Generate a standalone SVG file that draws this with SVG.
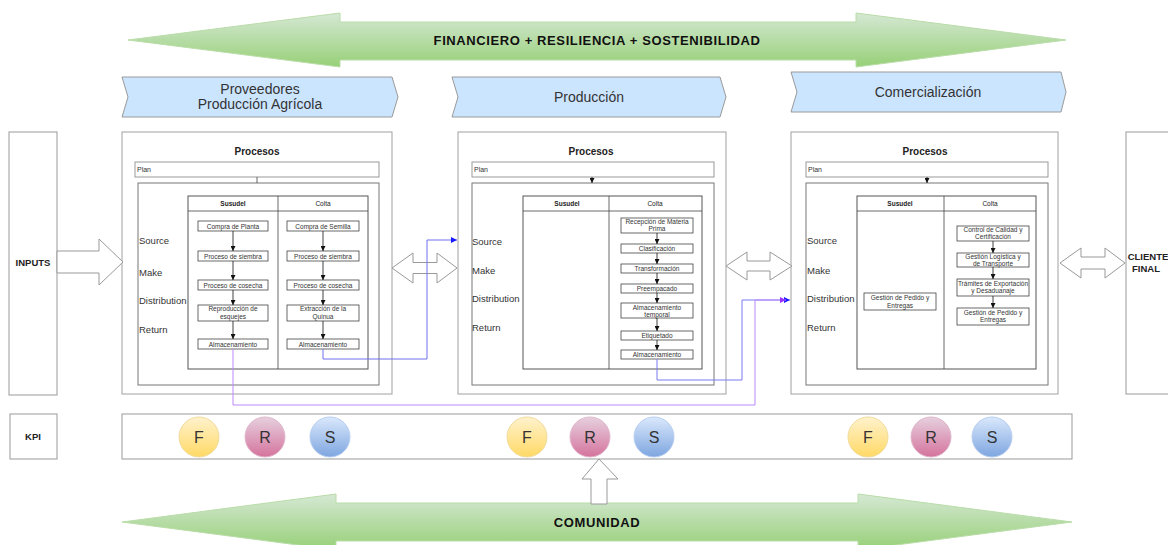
<svg xmlns="http://www.w3.org/2000/svg" width="1168" height="545" viewBox="0 0 1168 545">
<defs>
<linearGradient id="gGreen" x1="0" y1="0" x2="0" y2="1"><stop offset="0" stop-color="#d5e8d4"/><stop offset="1" stop-color="#97d077"/></linearGradient>
<linearGradient id="gF" x1="0" y1="0" x2="0" y2="1"><stop offset="0" stop-color="#fff2cc"/><stop offset="1" stop-color="#ffd966"/></linearGradient>
<linearGradient id="gR" x1="0" y1="0" x2="0" y2="1"><stop offset="0" stop-color="#e6d0de"/><stop offset="1" stop-color="#d5739d"/></linearGradient>
<linearGradient id="gS" x1="0" y1="0" x2="0" y2="1"><stop offset="0" stop-color="#dae8fc"/><stop offset="1" stop-color="#7ea6e0"/></linearGradient>
<marker id="mBlack" viewBox="0 0 10 10" refX="10" refY="5" markerWidth="5" markerHeight="5" orient="auto" markerUnits="userSpaceOnUse"><path d="M0,0 L10,5 L0,10 Z" fill="#111"/></marker>
<marker id="mBlue" viewBox="0 0 10 10" refX="10" refY="5" markerWidth="6" markerHeight="6" orient="auto" markerUnits="userSpaceOnUse"><path d="M0,0 L10,5 L0,10 Z" fill="#1a1aff"/></marker>
<marker id="mPurple" viewBox="0 0 10 10" refX="10" refY="5" markerWidth="6" markerHeight="6" orient="auto" markerUnits="userSpaceOnUse"><path d="M0,0 L10,5 L0,10 Z" fill="#9933ff"/></marker>
</defs>
<style>
text{font-family:"Liberation Sans",Arial,sans-serif;fill:#333}
.big{fill:url(#gGreen);stroke:#b9dca8;stroke-width:1}
.bigt{font-size:13px;font-weight:bold;fill:#111;text-anchor:middle;letter-spacing:0.6px}
.chev{fill:#cce5ff;stroke:#9a9a9a;stroke-width:1}
.chevt{font-size:14px;text-anchor:middle;fill:#333}
.outer{fill:#fff;stroke:#a0a0a0;stroke-width:1}
.inner{fill:none;stroke:#777;stroke-width:1}
.tbl{fill:none;stroke:#555;stroke-width:1}
.plan{fill:#fff;stroke:#999;stroke-width:1}
.pb{fill:#fff;stroke:#444;stroke-width:0.8}
.pt{font-size:6.5px;text-anchor:middle;fill:#333}
.proc{font-size:10px;font-weight:bold;text-anchor:middle;fill:#222}
.plant{font-size:7px;fill:#333}
.hdr{font-size:6.5px;text-anchor:middle;fill:#222}
.lbl{font-size:9.5px;fill:#333}
.hollow{fill:#fff;stroke:#999;stroke-width:1}
.side{fill:#fff;stroke:#999;stroke-width:1}
.sidet{font-size:9.5px;font-weight:bold;fill:#222;text-anchor:middle}
.ka{stroke:#111;stroke-width:0.8;fill:none;marker-end:url(#mBlack)}
.kl{stroke:#444;stroke-width:0.8;fill:none}
.cf{fill:url(#gF);stroke:#f0dca0;stroke-width:1}
.cr{fill:url(#gR);stroke:#e0b8cc;stroke-width:1}
.cs{fill:url(#gS);stroke:#b8cff0;stroke-width:1}
.ct{font-size:16px;text-anchor:middle;fill:#333}
</style>

<g id="banner-top">
<polygon class="big" points="128,40 340,13 340,22 856,22 856,13 1066,40 856,67 856,60 340,60 340,67"/>
<text class="bigt" x="597" y="45">FINANCIERO + RESILIENCIA + SOSTENIBILIDAD</text>
</g>

<g id="chevron-proveedores">
<polygon class="chev" points="122,77 392,77 398,97 392,117 122,117 128,97"/>
<text class="chevt" x="260" y="94">Proveedores</text>
<text class="chevt" x="260" y="109">Producción Agrícola</text>
</g>
<g id="chevron-produccion">
<polygon class="chev" points="452,77 720,77 726,97 720,117 452,117 458,97"/>
<text class="chevt" x="589" y="102">Producción</text>
</g>
<g id="chevron-comercializacion">
<polygon class="chev" points="791,72 1061,72 1066,92 1061,112 791,112 797,92"/>
<text class="chevt" x="928" y="97">Comercialización</text>
</g>

<g id="inputs">
<rect class="side" x="9" y="132" width="48" height="263"/>
<text class="sidet" x="33" y="266">INPUTS</text>
</g>
<g id="cliente-final">
<rect class="side" x="1126" y="132" width="60" height="262"/>
<text class="sidet" x="1148" y="260">CLIENTE</text>
<text class="sidet" x="1146" y="272">FINAL</text>
</g>

<g id="box-proveedores">
<rect class="outer" x="122" y="132" width="270" height="262"/>
<text class="proc" x="257" y="155">Procesos</text>
<rect class="plan" x="135" y="162" width="244" height="15"/>
<text class="plant" x="137" y="172">Plan</text>
<rect class="inner" x="138" y="183" width="241" height="202"/>
<rect class="tbl" x="188" y="196" width="180" height="173"/>
<line class="kl" x1="188" y1="211" x2="368" y2="211"/>
<line class="kl" x1="278" y1="196" x2="278" y2="369"/>
<text class="hdr" x="233" y="206" font-weight="bold">Susudel</text>
<text class="hdr" x="323" y="206">Colta</text>
<text class="lbl" x="139" y="244">Source</text>
<text class="lbl" x="139" y="276">Make</text>
<text class="lbl" x="139" y="304">Distribution</text>
<text class="lbl" x="139" y="333">Return</text>
<rect class="pb" x="198" y="221" width="70" height="10"/><text class="pt" x="233" y="228.5">Compra de Planta</text>
<rect class="pb" x="198" y="251" width="70" height="10"/><text class="pt" x="233" y="258.5">Proceso de siembra</text>
<rect class="pb" x="198" y="280" width="70" height="10"/><text class="pt" x="233" y="287.5">Proceso de cosecha</text>
<rect class="pb" x="198" y="305" width="70" height="16"/><text class="pt" x="233" y="311">Reproducción de</text><text class="pt" x="233" y="318.5">esquejes</text>
<rect class="pb" x="198" y="339" width="70" height="10"/><text class="pt" x="233" y="346.5">Almacenamiento</text>
<rect class="pb" x="287" y="221" width="72" height="10"/><text class="pt" x="323" y="228.5">Compra de Semilla</text>
<rect class="pb" x="287" y="251" width="72" height="10"/><text class="pt" x="323" y="258.5">Proceso de siembra</text>
<rect class="pb" x="287" y="280" width="72" height="10"/><text class="pt" x="323" y="287.5">Proceso de cosecha</text>
<rect class="pb" x="287" y="305" width="72" height="16"/><text class="pt" x="323" y="311">Extracción de la</text><text class="pt" x="323" y="318.5">Quinua</text>
<rect class="pb" x="287" y="339" width="72" height="10"/><text class="pt" x="323" y="346.5">Almacenamiento</text>
</g>

<g id="box-produccion">
<rect class="outer" x="458" y="132" width="268" height="262"/>
<text class="proc" x="591" y="155">Procesos</text>
<rect class="plan" x="472" y="162" width="242" height="15"/>
<text class="plant" x="474" y="172">Plan</text>
<rect class="inner" x="472" y="183" width="242" height="202"/>
<rect class="tbl" x="523" y="196" width="179" height="173"/>
<line class="kl" x1="523" y1="211" x2="702" y2="211"/>
<line class="kl" x1="609" y1="196" x2="609" y2="369"/>
<text class="hdr" x="567" y="206" font-weight="bold">Susudel</text>
<text class="hdr" x="655" y="206">Colta</text>
<text class="lbl" x="472" y="245">Source</text>
<text class="lbl" x="472" y="274">Make</text>
<text class="lbl" x="472" y="302">Distribution</text>
<text class="lbl" x="472" y="331">Return</text>
<rect class="pb" x="621" y="218" width="72" height="15"/><text class="pt" x="657" y="224">Recepción de Materia</text><text class="pt" x="657" y="231">Prima</text>
<rect class="pb" x="621" y="244" width="72" height="9"/><text class="pt" x="657" y="251">Clasificación</text>
<rect class="pb" x="621" y="264" width="72" height="9"/><text class="pt" x="657" y="271">Transformación</text>
<rect class="pb" x="621" y="284" width="72" height="9"/><text class="pt" x="657" y="291">Preempacado</text>
<rect class="pb" x="621" y="303" width="72" height="15"/><text class="pt" x="657" y="309.5">Almacenamiento</text><text class="pt" x="657" y="316.5">temporal</text>
<rect class="pb" x="621" y="331" width="72" height="9"/><text class="pt" x="657" y="338">Etiquetado</text>
<rect class="pb" x="621" y="350" width="72" height="9"/><text class="pt" x="657" y="357">Almacenamiento</text>
</g>

<g id="box-comercializacion">
<rect class="outer" x="791" y="132" width="267" height="262"/>
<text class="proc" x="925" y="155">Procesos</text>
<rect class="plan" x="806" y="162" width="242" height="15"/>
<text class="plant" x="808" y="172">Plan</text>
<rect class="inner" x="806" y="183" width="242" height="202"/>
<rect class="tbl" x="857" y="196" width="179" height="173"/>
<line class="kl" x1="857" y1="211" x2="1036" y2="211"/>
<line class="kl" x1="944" y1="196" x2="944" y2="369"/>
<text class="hdr" x="900" y="206" font-weight="bold">Susudel</text>
<text class="hdr" x="990" y="206">Colta</text>
<text class="lbl" x="807" y="244">Source</text>
<text class="lbl" x="807" y="274">Make</text>
<text class="lbl" x="807" y="302">Distribution</text>
<text class="lbl" x="807" y="331">Return</text>
<rect class="pb" x="864" y="293" width="72" height="17"/><text class="pt" x="900" y="300">Gestión de Pedido y</text><text class="pt" x="900" y="307.5">Entregas</text>
<rect class="pb" x="957" y="226" width="72" height="15"/><text class="pt" x="993" y="232">Control de Calidad y</text><text class="pt" x="993" y="239">Certificación</text>
<rect class="pb" x="957" y="253" width="72" height="14"/><text class="pt" x="993" y="259">Gestión Logística y</text><text class="pt" x="993" y="265.5">de Transporte</text>
<rect class="pb" x="957" y="279" width="72" height="17"/><text class="pt" x="993" y="286">Trámites de Exportación</text><text class="pt" x="993" y="293">y Desaduanaje</text>
<rect class="pb" x="957" y="308" width="72" height="17"/><text class="pt" x="993" y="315">Gestión de Pedido y</text><text class="pt" x="993" y="322">Entregas</text>
</g>

<g id="kpi">
<rect class="side" x="10" y="414" width="47" height="45"/>
<text class="sidet" x="33" y="440" font-size="8.5px">KPI</text>
</g>
<g id="kpi-row">
<rect class="side" x="122" y="414" width="950" height="45"/>
<circle class="cf" cx="199" cy="437" r="20"/><text class="ct" x="199" y="443">F</text>
<circle class="cr" cx="265" cy="437" r="20"/><text class="ct" x="265" y="443">R</text>
<circle class="cs" cx="330" cy="437" r="20"/><text class="ct" x="330" y="443">S</text>
<circle class="cf" cx="527" cy="437" r="20"/><text class="ct" x="527" y="443">F</text>
<circle class="cr" cx="590" cy="437" r="20"/><text class="ct" x="590" y="443">R</text>
<circle class="cs" cx="654" cy="437" r="20"/><text class="ct" x="654" y="443">S</text>
<circle class="cf" cx="868" cy="437" r="20"/><text class="ct" x="868" y="443">F</text>
<circle class="cr" cx="931" cy="437" r="20"/><text class="ct" x="931" y="443">R</text>
<circle class="cs" cx="992" cy="437" r="20"/><text class="ct" x="992" y="443">S</text>
</g>

<g id="banner-bottom">
<polygon class="big" points="122,522 336,494 336,503 858,503 858,494 1072,522 858,550 858,541 336,541 336,550"/>
<text class="bigt" x="597" y="527">COMUNIDAD</text>
</g>

<g id="connectors">
<polygon class="hollow" points="57,251 99,251 99,239 123,262 99,285 99,273 57,273"/>
<polygon class="hollow" points="392,268 413,253 413,262.5 437,262.5 437,253 457,268 437,283 437,273.5 413,273.5 413,283"/>
<polygon class="hollow" points="726,266 747,252 747,261 770,261 770,252 792,266 770,280 770,271 747,271 747,280"/>
<polygon class="hollow" points="1060,263 1081,248 1081,257 1105,257 1105,248 1125,263 1105,278 1105,269 1081,269 1081,278"/>
<polygon class="hollow" points="599,459 618,479 607,479 607,504 591,504 591,479 582,479"/>
<line class="kl" x1="257" y1="177" x2="257" y2="183"/>
<line class="ka" x1="592" y1="177" x2="592" y2="183"/>
<line class="ka" x1="927" y1="177" x2="927" y2="183"/>
<line class="ka" x1="233" y1="231" x2="233" y2="251"/>
<line class="ka" x1="233" y1="261" x2="233" y2="280"/>
<line class="ka" x1="233" y1="290" x2="233" y2="305"/>
<line class="ka" x1="233" y1="321" x2="233" y2="339"/>
<line class="ka" x1="323" y1="231" x2="323" y2="251"/>
<line class="ka" x1="323" y1="261" x2="323" y2="280"/>
<line class="ka" x1="323" y1="290" x2="323" y2="305"/>
<line class="ka" x1="323" y1="321" x2="323" y2="339"/>
<line class="ka" x1="657" y1="233" x2="657" y2="244"/>
<line class="ka" x1="657" y1="253" x2="657" y2="264"/>
<line class="ka" x1="657" y1="273" x2="657" y2="284"/>
<line class="ka" x1="657" y1="293" x2="657" y2="303"/>
<line class="ka" x1="657" y1="318" x2="657" y2="331"/>
<line class="ka" x1="657" y1="340" x2="657" y2="350"/>
<line class="ka" x1="993" y1="241" x2="993" y2="253"/>
<line class="ka" x1="993" y1="267" x2="993" y2="279"/>
<line class="ka" x1="993" y1="296" x2="993" y2="308"/>
<polyline points="323,349 323,359 427,359 427,240 457,240" fill="none" stroke="#7070f0" stroke-width="1" marker-end="url(#mBlue)"/>
<polyline points="657,359 657,380 742,380 742,300 790,300" fill="none" stroke="#7a7af2" stroke-width="1" marker-end="url(#mBlue)"/>
<polyline points="233,349 233,405 755,405 755,300 786,300" fill="none" stroke="#bb88ff" stroke-width="1" marker-end="url(#mPurple)"/>
</g>
</svg>
